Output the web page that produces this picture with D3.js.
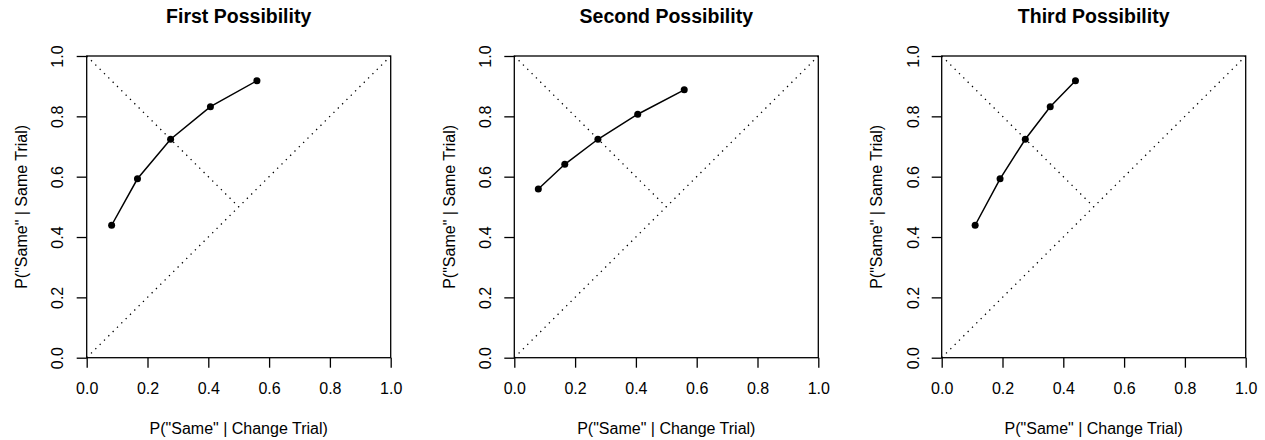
<!DOCTYPE html>
<html>
<head>
<meta charset="utf-8">
<script src="https://cdnjs.cloudflare.com/ajax/libs/d3/7.8.5/d3.min.js"></script>
<style>
  html, body { margin: 0; padding: 0; background: #fff; }
  svg { display: block; font-family: "Liberation Sans", Arial, Helvetica, sans-serif; }
</style>
</head>
<body>
<svg id="chart" width="1265" height="440"></svg>
<script>
// ---- data ----
const panelTitles = ["First Possibility", "Second Possibility", "Third Possibility"];
const xFirst  = [0.082, 0.167, 0.276, 0.407, 0.560];
const yFirst  = [0.439, 0.593, 0.724, 0.832, 0.918];
const xSecond = [0.079, 0.166, 0.275, 0.406, 0.559];
const ySecond = [0.559, 0.641, 0.724, 0.807, 0.888];
const xThird  = [0.110, 0.192, 0.275, 0.357, 0.440];
const yThird  = [0.439, 0.593, 0.724, 0.832, 0.918];
const tickValues = [0.0, 0.2, 0.4, 0.6, 0.8, 1.0];
const xAxisTitle = 'P("Same" | Change Trial)';
const yAxisTitle = 'P("Same" | Same Trial)';
const diagonal = [[0, 0], [1, 1]];
const antiDiagonal = [[0, 1], [0.5, 0.5]];

const seriesX = [xFirst, xSecond, xThird];
const seriesY = [yFirst, ySecond, yThird];

// ---- layout ----
const svg = d3.select("#chart");
const panelLefts = [86.7, 514.3, 941.7];
const boxW = 304;
const boxTop = 56, boxBottom = 357.7;
const fmt = d3.format(".1f");

panelLefts.forEach((left, i) => {
  const x = d3.scaleLinear().domain([0, 1]).range([left, left + boxW]);
  const y = d3.scaleLinear().domain([0, 1]).range([boxBottom, boxTop]);
  const g = svg.append("g");

  // title
  g.append("text")
    .attr("x", (x(0) + x(1)) / 2).attr("y", 23)
    .attr("text-anchor", "middle")
    .attr("font-weight", "bold").attr("font-size", "19.5px")
    .text(panelTitles[i]);

  // x axis
  const xa = g.append("g").attr("transform", `translate(0,${boxBottom})`)
    .call(d3.axisBottom(x).tickValues(tickValues).tickFormat(fmt).tickSize(10).tickSizeOuter(0));
  xa.select(".domain").remove();
  xa.selectAll(".tick line").attr("stroke", "#000").attr("stroke-width", 1.3);
  xa.selectAll(".tick text").attr("font-size", "16px").attr("fill", "#000")
    .attr("font-family", "Liberation Sans, Arial, sans-serif")
    .attr("dy", null).attr("y", 36);

  // y axis
  const ya = g.append("g").attr("transform", `translate(${left},0)`)
    .call(d3.axisLeft(y).tickValues(tickValues).tickFormat(fmt).tickSize(10).tickSizeOuter(0));
  ya.select(".domain").remove();
  ya.selectAll(".tick line").attr("stroke", "#000").attr("stroke-width", 1.3);
  ya.selectAll(".tick text").attr("font-size", "16px").attr("fill", "#000")
    .attr("font-family", "Liberation Sans, Arial, sans-serif")
    .attr("x", null).attr("dy", null)
    .attr("text-anchor", "middle")
    .attr("transform", "translate(-23.2,0) rotate(-90)");

  // box
  g.append("rect")
    .attr("x", x(0)).attr("y", y(1))
    .attr("width", x(1) - x(0)).attr("height", y(0) - y(1))
    .attr("fill", "none").attr("stroke", "#000").attr("stroke-width", 1.3);

  // axis titles
  g.append("text")
    .attr("x", (x(0) + x(1)) / 2).attr("y", 433.5)
    .attr("text-anchor", "middle").attr("font-size", "16px")
    .text(xAxisTitle);
  g.append("text")
    .attr("transform", `translate(${left - 59.5},${(y(0) + y(1)) / 2}) rotate(-90)`)
    .attr("text-anchor", "middle").attr("font-size", "16px")
    .text(yAxisTitle);

  // dotted reference lines
  const ref = d3.line().x(d => x(d[0])).y(d => y(d[1]));
  [diagonal, antiDiagonal].forEach(seg => {
    g.append("path").attr("d", ref(seg))
      .attr("fill", "none").attr("stroke", "#000")
      .attr("stroke-width", 1.3).attr("stroke-dasharray", "1.3 4.8");
  });

  // data
  const pts = seriesX[i].map((v, k) => [v, seriesY[i][k]]);
  g.append("path").attr("d", ref(pts))
    .attr("fill", "none").attr("stroke", "#000").attr("stroke-width", 1.5);
  g.selectAll("circle.pt").data(pts).enter().append("circle")
    .attr("class", "pt")
    .attr("cx", d => x(d[0])).attr("cy", d => y(d[1])).attr("r", 3.5)
    .attr("fill", "#000");
});
</script>
</body>
</html>
